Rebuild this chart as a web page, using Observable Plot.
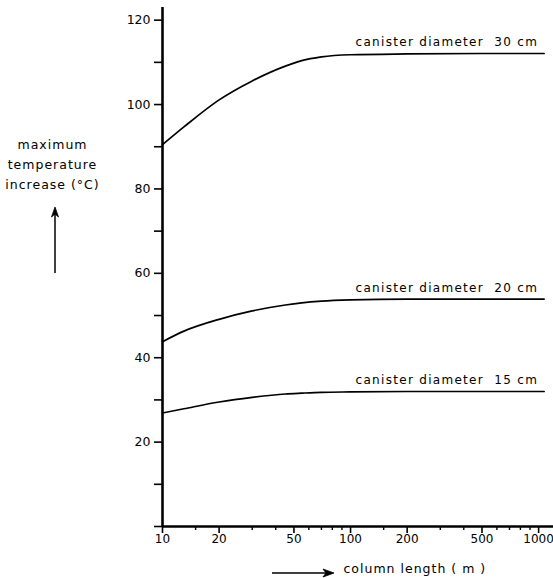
<!DOCTYPE html>
<html>
<head>
<meta charset="utf-8">
<script src="https://cdn.jsdelivr.net/npm/d3@7"></script>
<script src="https://cdn.jsdelivr.net/npm/@observablehq/plot@0.6"></script>
<style>
  html, body { margin: 0; padding: 0; background: #fff; }
  #chart svg { display: block; }
</style>
</head>
<body>
<div id="chart"></div>
<script>
// Column length (m), shared by all three curves
const lengths = [10, 13, 20, 30, 45, 55, 70, 100, 200, 500, 1070];

// Maximum temperature increase (°C) for each canister diameter
const rise30 = [90.5, 94.7, 101.1, 105.6, 109.1, 110.4, 111.3, 111.8, 112.0, 112.1, 112.1];
const rise20 = [43.8, 46.3, 49.1, 51.1, 52.5, 53.0, 53.4, 53.7, 53.9, 53.9, 53.9];
const rise15 = [26.9, 27.9, 29.5, 30.6, 31.4, 31.6, 31.8, 31.9, 32.0, 32.0, 32.0];

const diameters = [30, 20, 15];
const seriesValues = [rise30, rise20, rise15];

// Axis ticks
const yTicks = [0, 10, 20, 30, 40, 50, 60, 70, 80, 90, 100, 110, 120];
const xMajorTicks = [10, 20, 50, 100, 200, 500, 1000];
const xMinorTicks = [15, 30, 40, 60, 70, 80, 90, 150, 300, 400, 600, 700, 800, 900];

const rows = diameters.flatMap((d, i) =>
  lengths.map((x, j) => ({diameter: d, length: x, rise: seriesValues[i][j]}))
);
const ends = diameters.map((d, i) => ({
  diameter: d,
  length: lengths[lengths.length - 1],
  rise: seriesValues[i][seriesValues[i].length - 1]
}));

const font = "DejaVu Sans";

const chart = Plot.plot({
  width: 553,
  height: 578,
  marginLeft: 162,
  marginRight: 0,
  marginTop: 7,
  marginBottom: 52,
  style: {fontFamily: font, fontSize: "12px", color: "#000", background: "#fff"},
  x: {type: "log", domain: [10, 1200]},
  y: {domain: [0, 123]},
  marks: [
    Plot.axisY(yTicks, {
      tickSize: 8, tickPadding: 4, strokeWidth: 1.6, fontSize: 12.5,
      tickFormat: d => (d > 0 && d % 20 === 0 ? String(d) : ""), label: null
    }),
    Plot.axisX(xMajorTicks, {
      tickSize: 7, strokeWidth: 1.6, tickFormat: () => "", label: null
    }),
    Plot.axisX(xMinorTicks, {
      tickSize: 4, strokeWidth: 1.4, tickFormat: () => "", label: null
    }),
    // labels of the major x ticks
    Plot.text(xMajorTicks, {
      x: d => d, frameAnchor: "bottom", dy: 16,
      text: d => String(d), fontSize: 12
    }),
    Plot.ruleX([10], {y1: 0, y2: 123, strokeWidth: 2.6}),
    Plot.ruleY([0], {x1: 10, x2: 1200, strokeWidth: 2.6}),
    Plot.line(rows, {
      x: "length", y: "rise", z: "diameter",
      curve: "monotone-x", stroke: "#000", strokeWidth: 1.7
    }),
    Plot.text(ends, {
      x: "length", y: "rise",
      text: d => `canister diameter\u00a0\u00a0${d.diameter} cm`,
      textAnchor: "end", dx: -6, dy: -11, fontSize: 12,
      className: "curve-label"
    }),
    // y-axis title, to the left of the axis
    Plot.text(["maximum\ntemperature\nincrease (°C)"], {
      frameAnchor: "top-left", dx: -110, dy: 155,
      textAnchor: "middle", lineAnchor: "middle", lineHeight: 1.6, fontSize: 12.5,
      className: "axis-title"
    }),
    // x-axis title, below the axis
    Plot.text(["column length ( m )"], {
      frameAnchor: "bottom-left", dx: 181, dy: 46,
      textAnchor: "start", fontSize: 12.5,
      className: "axis-title"
    })
  ]
});

document.getElementById("chart").appendChild(chart);

const svg = d3.select(chart);
svg.selectAll(".axis-title text").style("letter-spacing", "1px");
svg.selectAll(".curve-label text").style("letter-spacing", "1.3px");

// Direction arrows beside the axis titles
const arrows = svg.append("g").attr("stroke", "#000").attr("fill", "#000");
arrows.append("line").attr("x1", 55).attr("y1", 273).attr("x2", 55).attr("y2", 210).attr("stroke-width", 1.5);
arrows.append("path").attr("d", "M55,207 L51.5,217 L55,214 L58.5,217 Z").attr("stroke-width", 0.8);
arrows.append("line").attr("x1", 272).attr("y1", 573).attr("x2", 330).attr("y2", 573).attr("stroke-width", 1.5);
arrows.append("path").attr("d", "M334,573 L323,569 L326,573 L323,577 Z").attr("stroke-width", 0.8);
</script>
</body>
</html>
